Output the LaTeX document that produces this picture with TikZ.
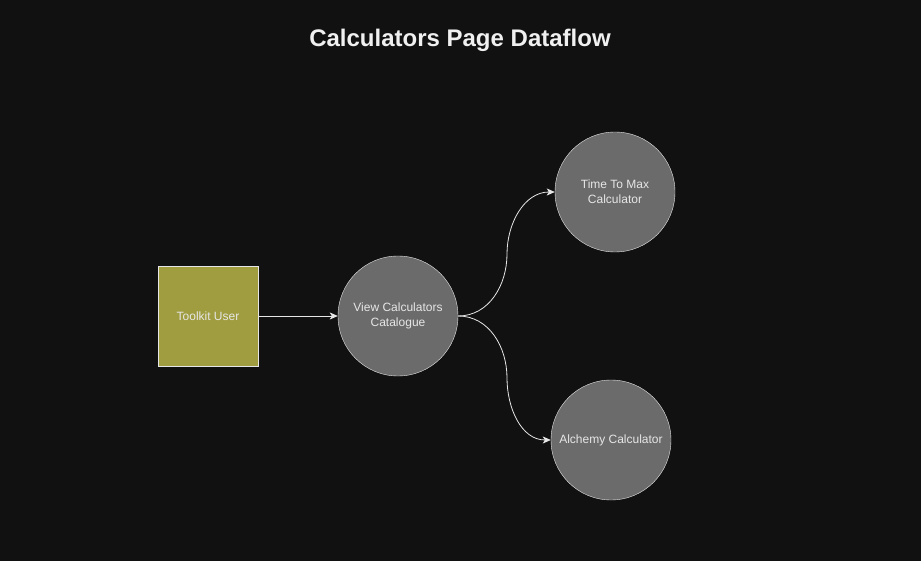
\documentclass[tikz,border=0pt]{standalone}
\usepackage{fontspec}
\setmainfont{Liberation Sans}
\usepackage{tikz}
\usetikzlibrary{arrows.meta,positioning}
\definecolor{bgdark}{HTML}{111111}
\definecolor{olive}{HTML}{A09D40}
\definecolor{procgray}{HTML}{6B6B6B}
\definecolor{linegray}{HTML}{E6E6E6}
\tikzset{
  entity/.style={draw=linegray, fill=olive, minimum size=100pt, inner sep=0pt, text=linegray, font=\fontsize{12}{14}\selectfont},
  process/.style={circle, draw=linegray, fill=procgray, minimum size=120pt, inner sep=0pt, align=center, text=linegray, font=\fontsize{12}{15}\selectfont},
  flow/.style={draw=linegray, -{Stealth[length=8pt,width=7pt,inset=2pt]}, line width=0.8pt}
}

\begin{document}
\begin{tikzpicture}[x=1pt,y=1pt,node distance=190pt,on grid]
	     \path[use as bounding box, fill=bgdark] (0,0) rectangle (921,-561);
	     \node[text=white!94!black, font=\bfseries\fontsize{24}{28}\selectfont] (title) at (460,-40) {Calculators Page Dataflow};

	     \node[entity] (user) at (208,-316) {Toolkit User};
	     \node[process] (view) [right=of user] {View Calculators\\Catalogue};
	     \node[process] (ttm) [above right=124pt and 217pt of view] {Time To Max\\Calculator};
	     \node[process] (alch) [below right=124pt and 213pt of view] {Alchemy Calculator};

	     % bends of the two curved flows
	     \coordinate (ttmbend) at (507,-254);
	     \coordinate (alchbend) at (507,-378);

	     \draw[flow] (user) -- (view);
	     \draw[flow] (view.east) to[out=0, in=-90] (ttmbend) to[out=90, in=180] (ttm.west);
	     \draw[flow] (view.east) to[out=0, in=90] (alchbend) to[out=-90, in=180] (alch.west);
	   \end{tikzpicture}
\end{document}
